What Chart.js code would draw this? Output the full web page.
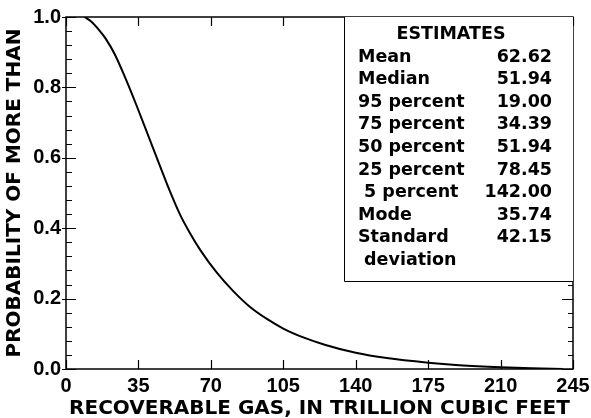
<!DOCTYPE html>
<html>
<head>
<meta charset="utf-8">
<script src="https://cdn.jsdelivr.net/npm/chart.js@4/dist/chart.umd.min.js"></script>
<style>
  html, body { margin: 0; padding: 0; background: #fff; }
  #wrap { width: 591px; height: 418px; }
</style>
</head>
<body>
<div id="wrap"><canvas id="gasChart" width="591" height="418"></canvas></div>
<script>
// curve: recoverable gas (trillion cubic feet) vs probability of more than
const gasValues = [9, 12, 16, 19, 23.5, 28.3, 34, 39.6, 45.2, 50, 55, 60, 65, 72.7, 80.7, 88.8, 96.9, 105, 115, 125, 140, 155, 175, 190, 210, 225, 240];
const probValues = [1.0, 0.988, 0.963, 0.94, 0.895, 0.832, 0.75, 0.665, 0.58, 0.508, 0.44, 0.385, 0.337, 0.275, 0.222, 0.177, 0.143, 0.115, 0.089, 0.069, 0.046, 0.031, 0.018, 0.011, 0.005, 0.002, 0.0];

const xTicks = [0, 35, 70, 105, 140, 175, 210, 245];
const yTicks = [0.0, 0.2, 0.4, 0.6, 0.8, 1.0];

const estimateLabels = ["Mean", "Median", "95 percent", "75 percent", "50 percent", "25 percent", " 5 percent", "Mode", "Standard", " deviation"];
const estimateValues = ["62.62", "51.94", "19.00", "34.39", "51.94", "78.45", "142.00", "35.74", "42.15", ""];

const tickFont = { family: "'Liberation Sans', Arial, sans-serif", size: 20, weight: "bold" };

const points = gasValues.map((g, i) => ({ x: g, y: probValues[i] }));

// frame, inward ticks and the estimates box
const framePlugin = {
    id: "framePlugin",
    afterDraw(chart) {
        const ctx = chart.ctx;
        const area = chart.chartArea;
        const xs = chart.scales.x;
        const ys = chart.scales.y;

        ctx.save();
        ctx.strokeStyle = "#000";
        ctx.lineWidth = 1.5;
        ctx.strokeRect(area.left, area.top, area.right - area.left, area.bottom - area.top);

        ctx.beginPath();
        // y ticks, every 0.04, longer at 0.2
        for (let i = 0; i <= 25; i++) {
            const v = i * 0.04;
            const py = Math.round(ys.getPixelForValue(v)) + 0.5;
            const major = i % 5 === 0;
            ctx.moveTo(area.left - (major ? 4 : 0), py);
            ctx.lineTo(area.left + (major ? 10 : 6), py);
            ctx.moveTo(area.right - (major ? 11 : 5), py);
            ctx.lineTo(area.right, py);
        }
        // x ticks, top and bottom
        xTicks.forEach((v) => {
            const px = Math.round(xs.getPixelForValue(v)) + 0.5;
            ctx.moveTo(px, area.bottom);
            ctx.lineTo(px, area.bottom - 9);
            ctx.moveTo(px, area.top);
            ctx.lineTo(px, area.top + 9);
        });
        ctx.lineWidth = 1.2;
        ctx.stroke();

        // estimates box
        const bx = 344;
        const by = area.top;
        const bw = area.right - bx;
        const bh = 281 - by;
        ctx.fillStyle = "#fff";
        ctx.fillRect(bx, by, bw, bh);
        ctx.lineWidth = 1;
        ctx.beginPath();
        ctx.moveTo(bx + 0.5, by);
        ctx.lineTo(bx + 0.5, by + bh + 0.5);
        ctx.lineTo(area.right, by + bh + 0.5);
        ctx.stroke();

        ctx.fillStyle = "#000";
        ctx.font = "bold 17.5px 'DejaVu Sans', sans-serif";
        ctx.textBaseline = "middle";
        ctx.textAlign = "center";
        ctx.fillText("ESTIMATES", 451, 34);
        estimateLabels.forEach((lab, i) => {
            const ty = 57 + i * 22.6;
            ctx.textAlign = "left";
            ctx.fillText(lab, 358, ty);
            ctx.textAlign = "right";
            ctx.fillText(estimateValues[i], 552, ty);
        });
        ctx.restore();
    },
};

const ctx = document.getElementById("gasChart").getContext("2d");

const chart = new Chart(ctx, {
    type: "scatter",
    data: {
        datasets: [
            {
                label: "Probability of more than",
                data: points,
                showLine: true,
                borderColor: "#000",
                borderWidth: 2,
                pointRadius: 0,
                cubicInterpolationMode: "monotone",
                fill: false,
            },
        ],
    },
    options: {
        responsive: false,
        animation: false,
        events: [],
        layout: { padding: { top: 15, right: 18, left: 0, bottom: 0 } },
        plugins: {
            legend: { display: false },
            tooltip: { enabled: false },
        },
        scales: {
            x: {
                type: "linear",
                min: 0,
                max: 245,
                afterBuildTicks: (scale) => {
                    scale.ticks = xTicks.map((v) => ({ value: v }));
                },
                afterFit: (scale) => {
                    scale.height = 49;
                    scale.paddingLeft = 0;
                    scale.paddingRight = 0;
                },
                grid: { display: false, drawTicks: false },
                border: { display: false },
                ticks: {
                    color: "#000",
                    font: tickFont,
                    padding: 5,
                    maxRotation: 0,
                    autoSkip: false,
                },
                title: {
                    display: true,
                    text: "RECOVERABLE GAS, IN TRILLION CUBIC FEET",
                    color: "#000",
                    font: { family: "'DejaVu Sans', sans-serif", size: 20, weight: "bold", lineHeight: 0.9 },
                    padding: { top: 0, bottom: 0 },
                },
            },
            y: {
                type: "linear",
                min: 0,
                max: 1,
                afterBuildTicks: (scale) => {
                    scale.ticks = yTicks.map((v) => ({ value: v }));
                },
                afterFit: (scale) => {
                    scale.width = 66;
                },
                grid: { display: false, drawTicks: false },
                border: { display: false },
                ticks: {
                    color: "#000",
                    font: tickFont,
                    padding: 5,
                    callback: (v) => Number(v).toFixed(1),
                },
                title: {
                    display: true,
                    text: "PROBABILITY OF MORE THAN",
                    color: "#000",
                    font: { family: "'DejaVu Sans', sans-serif", size: 20, weight: "bold", lineHeight: 1.5 },
                    padding: { top: 0, bottom: 0 },
                },
            },
        },
    },
    plugins: [framePlugin],
});
</script>
</body>
</html>
